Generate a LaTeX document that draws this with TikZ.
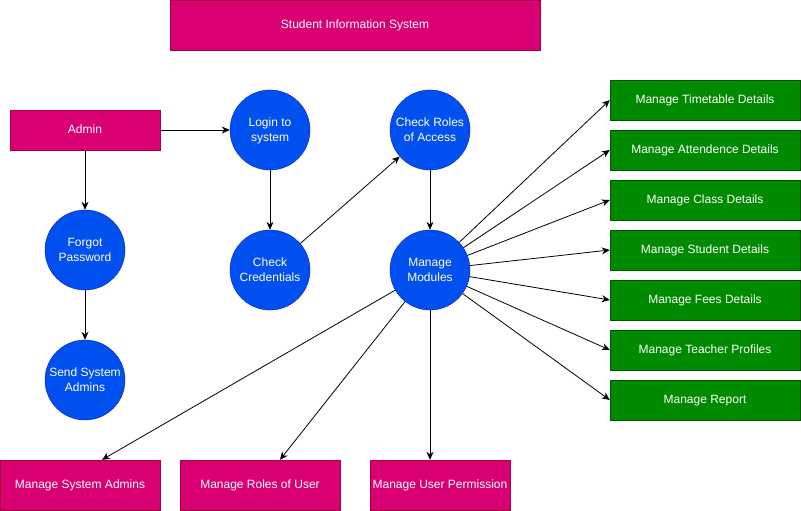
\documentclass[tikz,border=0pt]{standalone}
\usepackage{xcolor}
\usepackage{tikz}
\usepackage{fontspec}
\setmainfont{Liberation Sans}
\usetikzlibrary{arrows.meta}
\definecolor{boxmagenta}{RGB}{216,0,115}
\definecolor{edgemagenta}{RGB}{165,0,64}
\definecolor{circleblue}{RGB}{0,80,239}
\definecolor{edgeblue}{RGB}{0,29,188}
\definecolor{boxgreen}{RGB}{0,138,0}
\definecolor{edgegreen}{RGB}{0,87,0}

\begin{document}
\begin{tikzpicture}[x=1pt,y=-1pt,
  every node/.style={text=white,font=\fontsize{12}{15}\selectfont,inner sep=0pt,text depth=1pt},
  pinkbox/.style={draw=edgemagenta,fill=boxmagenta,minimum height=40pt},
  bluecircle/.style={circle,draw=edgeblue,fill=circleblue,minimum size=80pt,align=center},
  greenbox/.style={draw=edgegreen,fill=boxgreen,minimum width=190pt,minimum height=40pt},
  arr/.style={-{Stealth[length=8pt,width=7pt]},line width=0.8pt}]
% Fix the page size
\useasboundingbox (0,0) rectangle (801,511);
% Title
\node[pinkbox,minimum width=370pt,minimum height=50pt] (title) at (355,25) {Student Information System};
% Admin side
\node[pinkbox,minimum width=150pt] (admin) at (85,130) {Admin};
\node[bluecircle] (forgot) at (85,250) {Forgot\\Password};
\node[bluecircle] (sendadm) at (85,380) {Send System\\Admins};
% Login flow
\node[bluecircle] (login) at (270,130) {Login to\\system};
\node[bluecircle] (checkcred) at (270,270) {Check\\Credentials};
\node[bluecircle] (checkroles) at (430,130) {Check Roles\\of Access};
\node[bluecircle] (modules) at (430,270) {Manage\\Modules};
% Green modules on the right
\node[greenbox] (timetable) at (705,100) {Manage Timetable Details};
\node[greenbox] (attend) at (705,150) {Manage Attendence Details};
\node[greenbox] (class) at (705,200) {Manage Class Details};
\node[greenbox] (student) at (705,250) {Manage Student Details};
\node[greenbox] (fees) at (705,300) {Manage Fees Details};
\node[greenbox] (teacher) at (705,350) {Manage Teacher Profiles};
\node[greenbox] (report) at (705,400) {Manage Report};
% Bottom boxes
\node[pinkbox,minimum width=160pt,minimum height=50pt] (sysadm) at (80,485) {Manage System Admins};
\node[pinkbox,minimum width=160pt,minimum height=50pt] (roles) at (260,485) {Manage Roles of User};
\node[pinkbox,minimum width=140pt,minimum height=50pt] (perm) at (440,485) {Manage User Permission};
% Connectors
\draw[arr] (admin) -- (login);
\draw[arr] (admin) -- (forgot);
\draw[arr] (forgot) -- (sendadm);
\draw[arr] (login) -- (checkcred);
\draw[arr] (checkcred) -- (checkroles);
\draw[arr] (checkroles) -- (modules);
\foreach \target in {timetable,attend,class,student,fees,teacher,report}
  \draw[arr] (modules) -- (\target.west);
\coordinate (sysadmtop) at ([xshift=22pt]sysadm.north);
\coordinate (rolestop) at ([xshift=20pt]roles.north);
\draw[arr] (modules) -- (sysadmtop);
\draw[arr] (modules) -- (rolestop);
\draw[arr] (modules.south) -- (modules.south |- perm.north);
\end{tikzpicture}
\end{document}
